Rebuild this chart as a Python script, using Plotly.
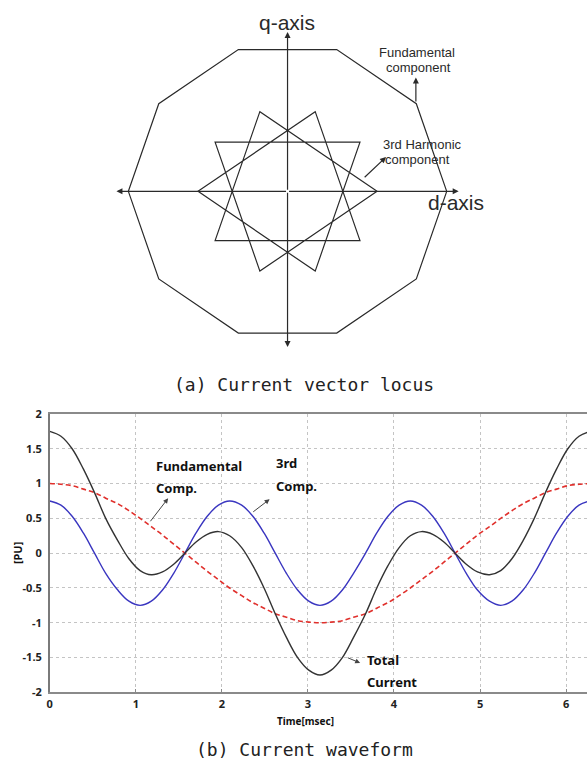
import plotly.graph_objects as go
import numpy as np

# ---------------- data ----------------
# (a) current vector locus: sampled vector angles (deg) and magnitudes
fund_angles_deg = [0, 36, 72, 108, 144, 180, 216, 252, 288, 324, 360]
fund_mag = 1.0
harm_angles_deg = [0, 108, 216, 324, 72, 180, 288, 36, 144, 252, 0]
harm_mag = 0.5625
axis_len_d = 1.075
axis_len_q_up = 1.07
axis_len_q_dn = 1.045

# (b) current waveform
t_ms = [0.00, 0.13, 0.26, 0.39, 0.52, 0.65, 0.79, 0.92, 1.05, 1.18, 1.31, 1.44,
        1.57, 1.70, 1.83, 1.96, 2.09, 2.23, 2.36, 2.49, 2.62, 2.75, 2.88, 3.01,
        3.14, 3.27, 3.40, 3.53, 3.67, 3.80, 3.93, 4.06, 4.19, 4.32, 4.45, 4.58,
        4.71, 4.84, 4.97, 5.11, 5.24, 5.37, 5.50, 5.63, 5.76, 5.89, 6.02, 6.15, 6.28]
fundamental = [1.00, 0.99, 0.97, 0.92, 0.87, 0.79, 0.71, 0.61, 0.50, 0.38, 0.26, 0.13,
               0.00, -0.13, -0.26, -0.38, -0.50, -0.61, -0.71, -0.79, -0.87, -0.92,
               -0.97, -0.99, -1.00, -0.99, -0.97, -0.92, -0.87, -0.79, -0.71, -0.61,
               -0.50, -0.38, -0.26, -0.13, 0.00, 0.13, 0.26, 0.38, 0.50, 0.61, 0.71,
               0.79, 0.87, 0.92, 0.97, 0.99, 1.00]
third = [0.75, 0.69, 0.53, 0.29, 0.00, -0.29, -0.53, -0.69, -0.75, -0.69, -0.53, -0.29,
         0.00, 0.29, 0.53, 0.69, 0.75, 0.69, 0.53, 0.29, 0.00, -0.29, -0.53, -0.69,
         -0.75, -0.69, -0.53, -0.29, 0.00, 0.29, 0.53, 0.69, 0.75, 0.69, 0.53, 0.29,
         0.00, -0.29, -0.53, -0.69, -0.75, -0.69, -0.53, -0.29, 0.00, 0.29, 0.53,
         0.69, 0.75]
total = [1.75, 1.68, 1.50, 1.21, 0.87, 0.50, 0.18, -0.08, -0.25, -0.31, -0.27, -0.16,
         0.00, 0.16, 0.27, 0.31, 0.25, 0.08, -0.18, -0.50, -0.87, -1.21, -1.50, -1.68,
         -1.75, -1.68, -1.50, -1.21, -0.87, -0.50, -0.18, 0.08, 0.25, 0.31, 0.27, 0.16,
         0.00, -0.16, -0.27, -0.31, -0.25, -0.08, 0.18, 0.50, 0.87, 1.21, 1.50, 1.68,
         1.75]
y_ticks = [2, 1.5, 1, 0.5, 0, -0.5, -1, -1.5, -2]
x_ticks = [0, 1, 2, 3, 4, 5, 6]

# ---------------- layout geometry ----------------
W, H = 587, 770
cx, cy, rx, ry = 286, 187, 160, 152
top_dom_bottom_px = 385
xr_top = [-cx / rx, (W - cx) / rx]
yr_top = [(cy - top_dom_bottom_px) / ry, cy / ry]
def px2top(px, py):
    return (px - cx) / rx, (cy - py) / ry

bx0, bpx_per = 47, 86.5
by_top, by_bot = 414, 698
def px2bot(px, py):
    t = (px - bx0) / bpx_per
    v = 2 - 4 * (py - by_top) / (by_bot - by_top)
    return t, v

fig = go.Figure()
ink = "#2a2a2a"

fa = np.deg2rad(fund_angles_deg)
fig.add_trace(go.Scatter(x=fund_mag * np.cos(fa), y=fund_mag * np.sin(fa), mode="lines",
                         line=dict(color=ink, width=1.2), xaxis="x", yaxis="y",
                         showlegend=False, hoverinfo="skip"))
ha = np.deg2rad(harm_angles_deg)
fig.add_trace(go.Scatter(x=harm_mag * np.cos(ha), y=harm_mag * np.sin(ha), mode="lines",
                         line=dict(color=ink, width=1.2), xaxis="x", yaxis="y",
                         showlegend=False, hoverinfo="skip"))

fig.add_trace(go.Scatter(x=t_ms, y=fundamental, mode="lines", line_shape="spline",
                         line=dict(color="#e0302c", width=1.6, dash="5px,3px"),
                         xaxis="x2", yaxis="y2", showlegend=False))
fig.add_trace(go.Scatter(x=t_ms, y=third, mode="lines", line_shape="spline",
                         line=dict(color="#3a36c0", width=1.4),
                         xaxis="x2", yaxis="y2", showlegend=False))
fig.add_trace(go.Scatter(x=t_ms, y=total, mode="lines", line_shape="spline",
                         line=dict(color="#333333", width=1.4),
                         xaxis="x2", yaxis="y2", showlegend=False))

ann = []
def text_at(px, py, text, font, xanchor="center", angle=0):
    ann.append(dict(x=px / W, y=1 - py / H, xref="paper", yref="paper", text=text,
                    showarrow=False, font=font, xanchor=xanchor, yanchor="middle",
                    textangle=angle))

def arrow(head, tail, xref, yref, color, width):
    ann.append(dict(x=head[0], y=head[1], ax=tail[0], ay=tail[1], xref=xref, yref=yref,
                    axref=xref, ayref=yref, text="", showarrow=True, arrowhead=2,
                    arrowsize=1, arrowwidth=width, arrowcolor=color))

for (ex, ey) in [(-axis_len_d, 0), (axis_len_d, 0), (0, axis_len_q_up), (0, -axis_len_q_dn)]:
    arrow((ex, ey), (0, 0), "x", "y", ink, 1.2)
lab_font = dict(family="Liberation Sans, Arial", size=21, color=ink)
text_at(285, 15, "q-axis", lab_font)
text_at(455, 198, "d-axis", lab_font)
small_font = dict(family="Liberation Sans, Arial", size=13, color=ink)
text_at(416, 45, "Fundamental", small_font)
text_at(418, 61, "component", small_font)
text_at(422, 139, "3rd Harmonic", small_font)
text_at(417, 155, "component", small_font)
arrow(px2top(415, 71), px2top(415, 97), "x", "y", ink, 1.2)
arrow(px2top(385, 152), px2top(362, 174), "x", "y", ink, 1.2)

cap_font = dict(family="DejaVu Sans Mono", size=18, color="#222")
text_at(303, 384, "(a) Current vector locus", cap_font)
text_at(303, 756, "(b) Current waveform", cap_font)

bold_font = dict(family="Noto Sans, Open Sans", size=13, color="#111", weight="bold")
text_at(152, 467, "Fundamental", bold_font, "left")
text_at(152, 490, "Comp.", bold_font, "left")
text_at(272, 464, "3rd", bold_font, "left")
text_at(272, 487, "Comp.", bold_font, "left")
text_at(364, 665, "Total", bold_font, "left")
text_at(364, 687, "Current", bold_font, "left")
for (hpx, hpy, tpx, tpy) in [(166, 500, 147, 525), (268, 501, 250, 515), (359, 668, 345, 662)]:
    arrow(px2bot(hpx, hpy), px2bot(tpx, tpy), "x2", "y2", "#444", 1)
text_at(14, 556, "[PU]", dict(family="Noto Sans, Open Sans", size=11, color="#111",
                              weight="bold"), "center", -90)
text_at(304, 727, "Time[msec]", dict(family="Noto Sans, Open Sans", size=10, color="#111",
                                     weight="bold"))

tick_font = dict(family="Noto Sans, Open Sans", size=11, color="#222", weight="bold")
fig.update_layout(
    width=W, height=H, margin=dict(l=0, r=0, t=0, b=0),
    paper_bgcolor="white", plot_bgcolor="white",
    xaxis=dict(domain=[0, 1], range=xr_top, visible=False, fixedrange=True),
    yaxis=dict(domain=[1 - top_dom_bottom_px / H, 1], range=yr_top, visible=False,
               fixedrange=True),
    xaxis2=dict(domain=[bx0 / W, 1], range=[0, (W - bx0) / bpx_per], anchor="y2",
                tickmode="array", tickvals=x_ticks, ticktext=[str(v) for v in x_ticks],
                tickfont=tick_font, showgrid=True, gridcolor="#c4c4c4", griddash="dot",
                gridwidth=1, zeroline=False, showline=True, linecolor="#8a8a8a",
                linewidth=1.5, mirror=True, ticks="inside", ticklen=4,
                tickcolor="#8a8a8a", ticklabelstandoff=1),
    yaxis2=dict(domain=[1 - by_bot / H, 1 - by_top / H], range=[-2, 2], anchor="x2",
                tickmode="array", tickvals=y_ticks,
                ticktext=[("%g" % v) for v in y_ticks], tickfont=tick_font,
                showgrid=True, gridcolor="#c4c4c4", griddash="dot", gridwidth=1,
                zeroline=False, showline=True, linecolor="#7a7a7a", linewidth=1.5,
                mirror=False, ticks="", ticklabelstandoff=4),
    annotations=ann,
)

fig.write_html("out.html")
